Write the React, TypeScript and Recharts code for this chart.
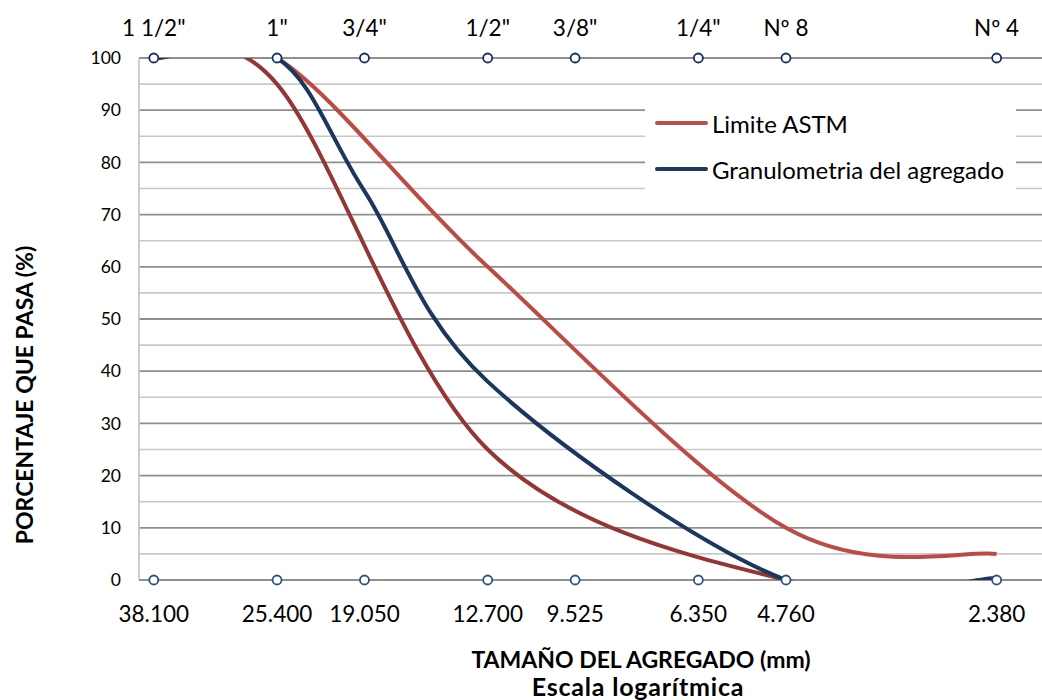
import React from 'react';
import {
  ComposedChart, Line, Scatter, XAxis, YAxis, CartesianGrid, LabelList, Legend,
} from 'recharts';

// ─── Data ─────────────────────────────────────────────────────────────────────

const sieveSizes = [38.1, 25.4, 19.05, 12.7, 9.525, 6.35, 4.76, 2.38];
const sieveNames = ['1 1/2"', '1"', '3/4"', '1/2"', '3/8"', '1/4"', 'Nº 8', 'Nº 4'];
const sizeLabels = ['38.100', '25.400', '19.050', '12.700', '9.525', '6.350', '4.760', '2.380'];

// ASTM limits (% que pasa)
const limitSizes = [38.1, 25.4, 12.7, 4.76, 2.38];
const upperLimit = [100, 100, 60, 10, 5];
const lowerLimit = [100, 95, 25, 0, 0];

// aggregate gradation (% que pasa)
const aggSizes = [38.1, 25.4, 19.05, 12.7, 4.76, 2.38];
const aggregate = [100, 100, 74.5, 38, 0, 0.4];

const yTicks = [0, 10, 20, 30, 40, 50, 60, 70, 80, 90, 100];
const yMinor = [5, 15, 25, 35, 45, 55, 65, 75, 85, 95];
const xMajor = [20];
const xMinor = [18, 16, 14, 12, 10, 8, 6, 4];

const legendItems = [
  { label: 'Limite ASTM', color: '#B9504C' },
  { label: 'Granulometria del agregado', color: '#1F3864' },
];

const toPoints = (sizes: number[], vals: number[]) => vals.map((y, i) => ({ x: sizes[i], y }));
const upperData = toPoints(limitSizes, upperLimit);
const lowerData = toPoints(limitSizes, lowerLimit);
const aggData = toPoints(aggSizes, aggregate);
const topMarks = sieveSizes.map((x, i) => ({ x, y: 100, label: sieveNames[i] }));
const bottomMarks = sieveSizes.map((x, i) => ({ x, y: 0, label: sizeLabels[i] }));

const FONT = 'Lato, "Open Sans", sans-serif';

// ─── Excel-like smoothed line (Catmull-Rom as bezier) ─────────────────────────

const excelSmooth = (context: any) => {
  let pts: number[][] = [];
  return {
    areaStart() {},
    areaEnd() {},
    lineStart() { pts = []; },
    point(x: number, y: number) { pts.push([+x, +y]); },
    lineEnd() {
      const n = pts.length;
      if (!n) return;
      context.moveTo(pts[0][0], pts[0][1]);
      for (let i = 0; i < n - 1; i++) {
        const a = pts[Math.max(i - 1, 0)];
        const b = pts[i];
        const c = pts[i + 1];
        const d = pts[Math.min(i + 2, n - 1)];
        context.bezierCurveTo(
          b[0] + (c[0] - a[0]) / 6, b[1] + (c[1] - a[1]) / 6,
          c[0] - (d[0] - b[0]) / 6, c[1] - (d[1] - b[1]) / 6,
          c[0], c[1],
        );
      }
    },
  };
};

// ─── Labels / titles / legend ─────────────────────────────────────────────────

const TopLabel = (p: any) => (
  <text x={p.x + p.width / 2} y={p.y - 17} textAnchor="middle" fontFamily={FONT} fontSize={22.5} fill="#000">
    {p.value}
  </text>
);

const BottomLabel = (p: any) => (
  <text x={p.x + p.width / 2} y={p.y + p.height + 37} textAnchor="middle" fontFamily={FONT} fontSize={22.5} fill="#000">
    {p.value}
  </text>
);

function XTitle({ viewBox }: any) {
  const cx = viewBox.x + 502;
  return (
    <g fontFamily={FONT} fontWeight={700} fill="#000">
      <text x={cx} y={viewBox.y + 88} textAnchor="middle" fontSize={23}>TAMAÑO DEL AGREGADO (mm)</text>
      <text x={cx - 3} y={viewBox.y + 116} textAnchor="middle" fontSize={25} letterSpacing={0.8}>Escala logarítmica</text>
    </g>
  );
}

function YTitle({ viewBox }: any) {
  const x = viewBox.x + 24;
  const y = viewBox.y + 337;
  return (
    <text
      x={x} y={y} transform={`rotate(-90 ${x} ${y})`}
      textAnchor="middle" dominantBaseline="central"
      fontFamily={FONT} fontWeight={700} fontSize={23} fill="#000"
    >
      PORCENTAJE QUE PASA (%)
    </text>
  );
}

function LegendBox() {
  return (
    <div style={{ background: '#fff', width: 371, height: 94, fontFamily: FONT, fontSize: 24, color: '#000' }}>
      {legendItems.map((it, i) => (
        <div key={it.label} style={{ position: 'absolute', left: 10, top: 24 + i * 46 - 15, height: 30, display: 'flex', alignItems: 'center' }}>
          <span style={{ display: 'inline-block', width: 53, height: 4, borderRadius: 2, background: it.color, marginRight: 4 }} />
          <span style={{ whiteSpace: 'nowrap' }}>{it.label}</span>
        </div>
      ))}
    </div>
  );
}

// ─── Chart ────────────────────────────────────────────────────────────────────

export default function App() {
  return (
    <div style={{ position: 'absolute', left: 0, top: 0, background: '#fff' }}>
      <ComposedChart width={1042} height={700} margin={{ top: 58, right: 0, bottom: 0, left: 0 }}>
        <CartesianGrid
          horizontalValues={yMinor}
          verticalValues={xMinor}
          stroke="#C8C8C8"
          strokeWidth={1.6}
        />
        <CartesianGrid
          horizontalValues={yTicks}
          verticalValues={xMajor}
          stroke="#8F8F8F"
          strokeWidth={1.8}
        />
        <XAxis
          dataKey="x"
          type="number"
          scale="log"
          domain={[2.05, 40]}
          reversed
          height={120}
          tick={false}
          tickLine={false}
          axisLine={false}
          label={<XTitle />}
        />
        <YAxis
          type="number"
          domain={[0, 100]}
          ticks={yTicks}
          width={139}
          tickLine={false}
          tickMargin={12}
          axisLine={{ stroke: '#C0C0C0', strokeWidth: 1.6 }}
          tick={{ fontSize: 17.5, fill: '#000', fontFamily: FONT }}
          label={<YTitle />}
        />
        <YAxis yAxisId="clip" hide type="number" domain={[0, 100]} allowDataOverflow />
        <Legend
          layout="vertical"
          align="center"
          verticalAlign="middle"
          content={<LegendBox />}
          wrapperStyle={{ position: 'absolute', left: 645, top: 99, width: 371, height: 94 }}
        />

        <Scatter data={topMarks} dataKey="y" shape="circle" fill="#fff" stroke="#142D63" strokeWidth={1.8} isAnimationActive={false}>
          <LabelList dataKey="label" content={TopLabel} />
        </Scatter>
        <Scatter data={bottomMarks} dataKey="y" shape="circle" fill="#fff" stroke="#2C5287" strokeWidth={1.8} isAnimationActive={false}>
          <LabelList dataKey="label" content={BottomLabel} />
        </Scatter>

        <Line yAxisId="clip" data={upperData} dataKey="y" type={excelSmooth as any} stroke="#BC4B46" strokeWidth={4} dot={false} activeDot={false} isAnimationActive={false} />
        <Line yAxisId="clip" data={lowerData} dataKey="y" type={excelSmooth as any} stroke="#943634" strokeWidth={4} dot={false} activeDot={false} isAnimationActive={false} />
        <Line yAxisId="clip" data={aggData} dataKey="y" type={excelSmooth as any} stroke="#1B365F" strokeWidth={4} dot={false} activeDot={false} isAnimationActive={false} />
      </ComposedChart>
    </div>
  );
}
